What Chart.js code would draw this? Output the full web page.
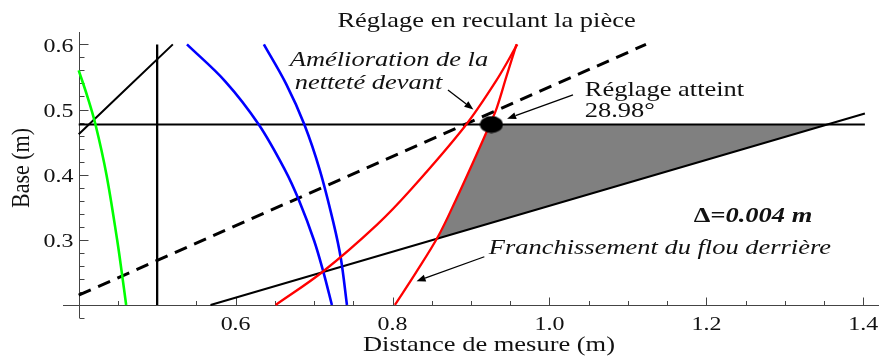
<!DOCTYPE html>
<html>
<head>
<meta charset="utf-8">
<script src="https://cdn.jsdelivr.net/npm/chart.js@4.4.0/dist/chart.umd.min.js"></script>
<style>
  html, body { margin: 0; padding: 0; background: #fff; }
  #wrap { width: 889px; height: 356px; }
</style>
</head>
<body>
<div id="wrap"><canvas id="chart" width="889" height="356"></canvas></div>
<script>
// curves as [distance (m), base (m)] pairs
var greenCurve = [[0.400,0.560],[0.4116,0.518],[0.4214,0.477],[0.4354,0.400],[0.449,0.300],[0.4549,0.250],[0.4605,0.200]];
var blueNear   = [[0.538,0.600],[0.587,0.543],[0.6295,0.477],[0.663,0.407],[0.6806,0.361],[0.700,0.299],[0.712,0.250],[0.7227,0.200]];
var blueFar    = [[0.636,0.600],[0.6645,0.539],[0.6876,0.477],[0.7073,0.407],[0.7247,0.326],[0.7342,0.271],[0.7419,0.200]];
var redFront   = [[0.651,0.200],[0.711,0.251],[0.780,0.323],[0.824,0.378],[0.892,0.474],[0.932,0.544],[0.959,0.600]];
var redRear    = [[0.803,0.200],[0.830,0.250],[0.858,0.305],[0.881,0.362],[0.906,0.428],[0.924,0.477],[0.933,0.503],[0.945,0.550],[0.958,0.600]];

// straight guides
var levelLine  = [[0.400,0.477],[1.402,0.477]];
var focusLine  = [[0.500,0.200],[0.500,0.600]];
var upperLine  = [[0.400,0.462],[0.520,0.600]];
var dashedLine = [[0.400,0.215],[1.123,0.600]];
var rearLine   = [[0.568,0.200],[1.402,0.494]];

// shaded zone between red rear curve, level line and rear line
var grayZone   = [[0.8564,0.3016],[0.881,0.362],[0.906,0.428],[0.924,0.477],[1.354,0.477]];
var setPoint   = [[0.926,0.477]];

var xTickLabels = [0.6, 0.8, 1.0, 1.2, 1.4];
var yTickLabels = [0.3, 0.4, 0.5, 0.6];
var axisOrigin = [0.4, 0.2];

var notes = [
  { text: 'Amélioration de la', x: 0.669, y: 0.5674, font: 'italic 21px "Liberation Serif"' },
  { text: 'netteté devant', x: 0.6753, y: 0.5322, font: 'italic 21px "Liberation Serif"' },
  { text: 'Réglage atteint', x: 1.045, y: 0.5215, font: '21px "Liberation Serif"' },
  { text: '28.98°', x: 1.045, y: 0.4878, font: '21px "Liberation Serif"' },
  { text: 'Franchissement du flou derrière', x: 0.9227, y: 0.278, font: 'italic 21px "Liberation Serif"' }
];
var arrows = [
  { from: [0.8706, 0.530], to: [0.903, 0.500] },
  { from: [1.030, 0.5226], to: [0.946, 0.4858] },
  { from: [0.917, 0.274], to: [0.8306, 0.2366] }
];

var SX = 1.26;  // text is drawn slightly wide
var axisColor = '#444';

function pts(arr) {
  return arr.map(function (p) { return { x: p[0], y: p[1] }; });
}

function curve(arr, color, width, dash) {
  return {
    data: pts(arr), showLine: true, fill: false,
    borderColor: color, borderWidth: width, borderDash: dash || [],
    pointRadius: 0, tension: 0.35
  };
}

function wideText(ctx, str, x, y, font, align) {
  ctx.save();
  ctx.translate(x, y);
  ctx.scale(SX, 1);
  ctx.font = font;
  ctx.textAlign = align || 'left';
  ctx.textBaseline = 'alphabetic';
  ctx.fillText(str, 0, 0);
  ctx.restore();
}

// black elliptic marker for the reached setting
var dotImg = document.createElement('canvas');
dotImg.width = 24; dotImg.height = 18;
var dc = dotImg.getContext('2d');
dc.fillStyle = '#000';
dc.beginPath();
dc.ellipse(12, 9, 11.5, 8.5, 0, 0, Math.PI * 2);
dc.fill();

var axesPlugin = {
  id: 'axes',
  beforeDatasetsDraw: function (chart) {
    var ctx = chart.ctx, xs = chart.scales.x, ys = chart.scales.y, a = chart.chartArea;
    var x0 = Math.round(xs.getPixelForValue(axisOrigin[0])) + 0.5;
    var y0 = Math.round(ys.getPixelForValue(axisOrigin[1])) + 0.5;
    ctx.save();
    ctx.strokeStyle = axisColor;
    ctx.lineWidth = 1;
    ctx.beginPath();
    ctx.moveTo(a.left, y0); ctx.lineTo(a.right, y0);
    ctx.moveTo(x0, a.top); ctx.lineTo(x0, a.bottom);
    // x ticks every 0.05, long ones every 0.2
    for (var i = 8; i <= 28; i++) {
      var px = Math.round(xs.getPixelForValue(i * 0.05)) + 0.5;
      var len = (i % 4 === 0) ? 8 : 4.5;
      ctx.moveTo(px, y0); ctx.lineTo(px, y0 - len);
    }
    // y ticks every 0.02, long ones every 0.1
    for (var j = 9; j <= 30; j++) {
      var py = Math.round(ys.getPixelForValue(j * 0.02)) + 0.5;
      var ylen = (j % 5 === 0) ? 9 : 5;
      ctx.moveTo(x0, py); ctx.lineTo(x0 + ylen, py);
    }
    ctx.stroke();

    ctx.fillStyle = '#111';
    xTickLabels.forEach(function (v) {
      wideText(ctx, v.toFixed(1), xs.getPixelForValue(v), y0 + 24.5, '19px "Liberation Serif"', 'center');
    });
    yTickLabels.forEach(function (v) {
      wideText(ctx, v.toFixed(1), x0 - 6, ys.getPixelForValue(v) + 7.5, '19px "Liberation Serif"', 'right');
    });

    // axis titles and heading
    wideText(ctx, 'Distance de mesure (m)', 489, 351, '21px "Liberation Serif"', 'center');
    wideText(ctx, 'Réglage en reculant la pièce', 486.5, 27, '21px "Liberation Serif"', 'center');
    ctx.save();
    ctx.translate(29, 168);
    ctx.scale(SX * 0.9, 1);
    ctx.rotate(-Math.PI / 2);
    ctx.font = '22px "Liberation Serif"';
    ctx.textAlign = 'center';
    ctx.fillText('Base (m)', 0, 0);
    ctx.restore();
    ctx.restore();
  },
  afterDatasetsDraw: function (chart) {
    var ctx = chart.ctx, xs = chart.scales.x, ys = chart.scales.y;
    ctx.save();
    ctx.fillStyle = '#111';
    notes.forEach(function (n) {
      wideText(ctx, n.text, xs.getPixelForValue(n.x), ys.getPixelForValue(n.y), n.font, 'left');
    });
    // delta label: upright bold sign, bold italic value
    var dx = xs.getPixelForValue(1.184), dy = ys.getPixelForValue(0.327);
    ctx.font = 'bold 21px "Liberation Serif"';
    var w = ctx.measureText('Δ=').width * SX;
    wideText(ctx, 'Δ=', dx, dy, 'bold 21px "Liberation Serif"', 'left');
    wideText(ctx, '0.004 m', dx + w, dy, 'italic bold 21px "Liberation Serif"', 'left');

    ctx.strokeStyle = '#000';
    ctx.fillStyle = '#000';
    ctx.lineWidth = 1.3;
    arrows.forEach(function (ar) {
      var x1 = xs.getPixelForValue(ar.from[0]), y1 = ys.getPixelForValue(ar.from[1]);
      var x2 = xs.getPixelForValue(ar.to[0]), y2 = ys.getPixelForValue(ar.to[1]);
      var ang = Math.atan2(y2 - y1, x2 - x1), hl = 9, hw = 3.5;
      var bx = x2 - hl * Math.cos(ang), by = y2 - hl * Math.sin(ang);
      ctx.beginPath();
      ctx.moveTo(x1, y1); ctx.lineTo(bx, by);
      ctx.stroke();
      ctx.beginPath();
      ctx.moveTo(x2, y2);
      ctx.lineTo(bx + hw * Math.sin(ang), by - hw * Math.cos(ang));
      ctx.lineTo(bx - hw * Math.sin(ang), by + hw * Math.cos(ang));
      ctx.closePath();
      ctx.fill();
    });
    ctx.restore();
  }
};

var datasets = [
  { data: pts(setPoint), showLine: false, pointStyle: dotImg, pointRadius: 10, borderWidth: 0 },
  curve(redRear, '#ff0000', 2.3),
  curve(redFront, '#ff0000', 2.3),
  curve(blueNear, '#0000ff', 2.6),
  curve(blueFar, '#0000ff', 2.6),
  curve(greenCurve, '#00ff00', 2.6),
  curve(levelLine, '#000', 2),
  curve(focusLine, '#000', 2.3),
  curve(upperLine, '#000', 2),
  curve(dashedLine, '#000', 3, [13, 8]),
  curve(rearLine, '#000', 2),
  {
    data: pts(grayZone), showLine: true, fill: 'shape',
    backgroundColor: '#808080', borderColor: 'rgba(0,0,0,0)', borderWidth: 0,
    pointRadius: 0, tension: 0
  }
];

new Chart(document.getElementById('chart'), {
  type: 'line',
  data: { datasets: datasets },
  options: {
    responsive: false,
    animation: false,
    layout: { padding: { left: 63, right: 2, top: 32, bottom: 38 } },
    scales: {
      x: { type: 'linear', min: 0.38, max: 1.42, display: false },
      y: { type: 'linear', min: 0.18, max: 0.619, display: false }
    },
    plugins: {
      legend: { display: false },
      title: { display: false },
      tooltip: { enabled: false }
    }
  },
  plugins: [axesPlugin]
});
</script>
</body>
</html>
